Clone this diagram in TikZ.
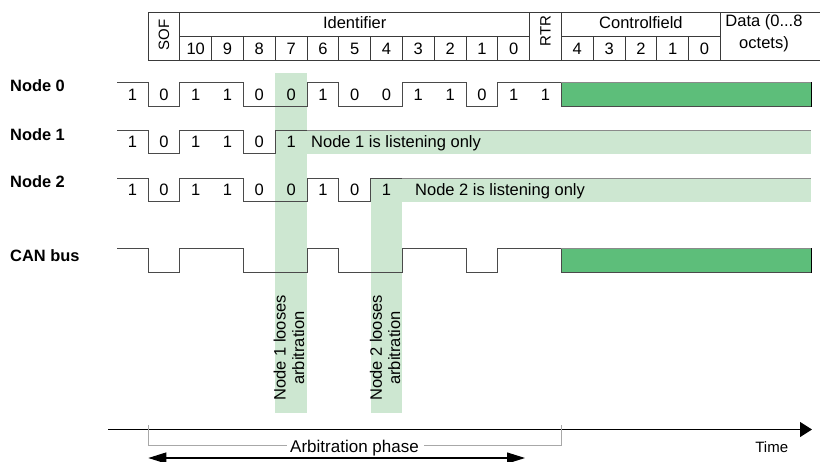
\documentclass[tikz,border=0pt]{standalone}
\usepackage{fontspec}
\setmainfont{Liberation Sans}
\usetikzlibrary{arrows.meta}

\definecolor{bandgreen}{HTML}{CDE7D1}
\definecolor{datagreen}{HTML}{5DBE7A}
\definecolor{wire}{HTML}{4A4A4A}
\definecolor{wirelight}{HTML}{8A8A8A}
\definecolor{rulecol}{HTML}{3A3A3A}
\definecolor{bracketcol}{HTML}{A8A8A8}

\newcommand{\cbTxt}{\fontsize{16.5}{18.3}\selectfont}
\newcommand{\cbSmall}{\fontsize{15}{17}\selectfont}
\newcommand{\cbLbl}{\fontsize{16.4}{19}\selectfont\bfseries}

\begin{document}
\begin{tikzpicture}[x=1pt,y=-1pt,
  lbl/.style={font=\cbLbl, anchor=base west, inner sep=0pt},
  bit/.style={font=\cbTxt, anchor=base, inner sep=0pt},
  note/.style={font=\cbTxt, anchor=base west, inner sep=0pt},
  hdr/.style={font=\cbTxt, anchor=base, inner sep=0pt},
  wave/.style={draw=wire, line width=0.9pt},
  hiwave/.style={draw=wirelight, line width=0.9pt},
  gridline/.style={draw=rulecol, line width=0.9pt},
  band/.style={fill=bandgreen},
  payload/.style={fill=datagreen},
  bracket/.style={draw=bracketcol, line width=0.7pt},
]
\useasboundingbox (0,0) rectangle (825,461);

% ---------- light green highlight bands ----------
\fill[band] (275.2,73) rectangle (307,413);      % bit 7: node 1 drops out
\fill[band] (307,130) rectangle (811,154);       % node 1 listening
\fill[band] (370.6,178) rectangle (402.4,413);   % bit 4: node 2 drops out
\fill[band] (402.4,178) rectangle (811,201.5);   % node 2 listening

% ---------- frame header ----------
\draw[gridline] (148,12) -- (820,12);
\draw[gridline] (148,60) -- (820,60);
\draw[gridline] (179.8,36) -- (529.6,36) (561.4,36) -- (720.4,36);
\foreach \x in {148,179.8,529.6,561.4,720.4}
  \draw[gridline] (\x,12) -- (\x,60);
\foreach \x in {211.6,243.4,275.2,307,338.8,370.6,402.4,434.2,466,497.8,593.2,625,656.8,688.6}
  \draw[gridline] (\x,36) -- (\x,60);

\node[font=\cbSmall, rotate=90, inner sep=0pt] (sof) at (164,35) {SOF};
\node[font=\cbSmall, rotate=90, inner sep=0pt] (rtr) at (545.5,31) {RTR};
\node[hdr] (ident) at (354.7,28.3) {Identifier};
\node[hdr] (ctrl) at (640.9,28.3) {Controlfield};
\node[hdr] (data1) at (764,26) {Data (0...8};
\node[hdr] (data2) at (764,48.3) {octets)};
\foreach \n [count=\i from 1] in {10,9,8,7,6,5,4,3,2,1,0}
  \node[bit] at ({148+31.8*(\i+0.5)},54.5) {\n};
\foreach \n [count=\i from 13] in {4,3,2,1,0}
  \node[bit] at ({148+31.8*(\i+0.5)},54.5) {\n};

% ---------- row labels ----------
\node[lbl] (n0) at (10,91.7) {Node 0};
\node[lbl] (n1) at (10,140.5) {Node 1};
\node[lbl] (n2) at (10,187.5) {Node 2};
\node[lbl] (bus) at (10,261.7) {CAN bus};

% ---------- Node 0 ----------
\draw[payload] (561.4,82) rectangle (811,106.5);
\draw[wave] (117,82) -- (148,82) -- (148,106.5) -- (179.8,106.5) -- (179.8,82)
  -- (243.4,82) -- (243.4,106.5) -- (307,106.5) -- (307,82) -- (338.8,82)
  -- (338.8,106.5) -- (402.4,106.5) -- (402.4,82) -- (466,82) -- (466,106.5)
  -- (497.8,106.5) -- (497.8,82) -- (561.4,82) -- (561.4,106.5) -- (811,106.5);
\draw[hiwave] (561.4,82) -- (811,82);
\node[bit] at (132.5,100.3) {1};
\foreach \b [count=\i from 0] in {0,1,1,0,0,1,0,0,1,1,0,1,1}
  \node[bit] at ({148+31.8*(\i+0.5)},100.3) {\b};

% ---------- Node 1 ----------
\draw[wave] (117,130) -- (148,130) -- (148,153.5) -- (179.8,153.5) -- (179.8,130)
  -- (243.4,130) -- (243.4,153.5) -- (275.2,153.5) -- (275.2,130) -- (307,130);
\draw[hiwave] (307,130) -- (811,130);
\node[bit] at (132.5,147.8) {1};
\foreach \b [count=\i from 0] in {0,1,1,0,1}
  \node[bit] at ({148+31.8*(\i+0.5)},147.8) {\b};
\node[note] (listen1) at (311,147.8) {Node 1 is listening only};

% ---------- Node 2 ----------
\draw[wave] (117,178) -- (148,178) -- (148,201.5) -- (179.8,201.5) -- (179.8,178)
  -- (243.4,178) -- (243.4,201.5) -- (307,201.5) -- (307,178) -- (338.8,178)
  -- (338.8,201.5) -- (370.6,201.5) -- (370.6,178) -- (402.4,178);
\draw[hiwave] (402.4,178) -- (811,178);
\node[bit] at (132.5,195.8) {1};
\foreach \b [count=\i from 0] in {0,1,1,0,0,1,0,1}
  \node[bit] at ({148+31.8*(\i+0.5)},195.8) {\b};
\node[note] (listen2) at (415,195.8) {Node 2 is listening only};

% ---------- CAN bus (wired AND of all nodes) ----------
\draw[payload] (561.4,248) rectangle (811,272);
\draw[wave] (117,248) -- (148,248) -- (148,272) -- (179.8,272) -- (179.8,248)
  -- (243.4,248) -- (243.4,272) -- (307,272) -- (307,248) -- (338.8,248)
  -- (338.8,272) -- (402.4,272) -- (402.4,248) -- (466,248) -- (466,272)
  -- (497.8,272) -- (497.8,248) -- (561.4,248) -- (561.4,272) -- (811,272);
\draw[hiwave] (561.4,248) -- (811,248);

% ---------- arbitration notes ----------
\node[font=\cbTxt, rotate=90, align=center, inner sep=0pt] (lose1) at (289,348)
  {Node 1 looses\\arbitration};
\node[font=\cbTxt, rotate=90, align=center, inner sep=0pt] (lose2) at (385,348)
  {Node 2 looses\\arbitration};

% ---------- time axis ----------
\coordinate (t0) at (108,429.5);
\coordinate (t1) at (812,429.5);
\draw[black, line width=1.1pt, -{Triangle[length=12pt,width=15pt]}] (t0) -- (t1);
\node[font=\cbSmall, anchor=base, inner sep=0pt] (time) at (771.7,452.5) {Time};

% ---------- arbitration phase bracket ----------
\draw[bracket] (148,425) -- (148,446);
\draw[bracket] (561.4,425) -- (561.4,446);
\draw[bracket] (148,445.5) -- (287,445.5);
\draw[bracket] (424,445.5) -- (561.4,445.5);
\node[font=\fontsize{17}{19}\selectfont, anchor=base, inner sep=0pt] (phase) at (354.5,452) {Arbitration phase};
\coordinate (p0) at (148.3,458);
\coordinate (p1) at (525,458);
\draw[black, line width=1.1pt, {Triangle[length=18pt,width=11pt]}-{Triangle[length=18pt,width=11pt]}] (p0) -- (p1);
\end{tikzpicture}
\end{document}
